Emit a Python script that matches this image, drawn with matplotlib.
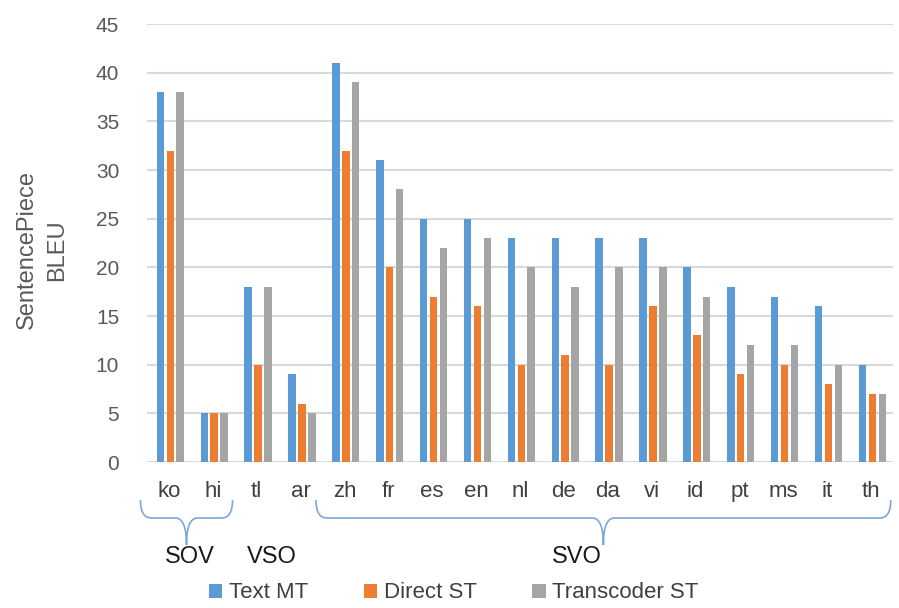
import numpy as np
import matplotlib
matplotlib.use('Agg')
import matplotlib.pyplot as plt
from matplotlib.path import Path
from matplotlib.patches import PathPatch
import matplotlib.transforms as mtransforms

plt.rcParams['font.family'] = ['Liberation Sans', 'DejaVu Sans']

# data
langs = ['ko', 'hi', 'tl', 'ar', 'zh', 'fr', 'es', 'en', 'nl', 'de', 'da', 'vi', 'id', 'pt', 'ms', 'it', 'th']
text_mt = [38, 5, 18, 9, 41, 31, 25, 25, 23, 23, 23, 23, 20, 18, 17, 16, 10]
direct_st = [32, 5, 10, 6, 32, 20, 17, 16, 10, 11, 10, 16, 13, 9, 10, 8, 7]
transcoder_st = [38, 5, 18, 5, 39, 28, 22, 23, 20, 18, 20, 20, 17, 12, 12, 10, 7]
series_names = ['Text MT', 'Direct ST', 'Transcoder ST']
colors = ['#5B9BD5', '#ED7D31', '#A5A5A5']

# word order groups: (first idx, last idx) for the braces, labels placed separately
groups = [(0, 1), (4, 16)]
order_labels = ['SOV', 'VSO', 'SVO']
order_label_x = [190, 272, 577]  # px

W, H = 899, 608
fig = plt.figure(figsize=(W / 100, H / 100), dpi=100)
ax = fig.add_axes([147 / W, 146 / H, 746 / W, 438 / H])

x = np.arange(len(langs))
bw = 0.17
step = 0.225
for k, (vals, c) in enumerate(zip([text_mt, direct_st, transcoder_st], colors)):
    ax.bar(x + (k - 1) * step + 0.03, vals, width=bw, color=c, label=series_names[k], zorder=3)

ax.set_xlim(-0.5, len(langs) - 0.5)
ax.set_ylim(0, 45)
ax.set_yticks(np.arange(0, 46, 5))
ax.set_xticks(x)
ax.set_xticklabels(langs, fontsize=16, color='#404040')
ax.tick_params(axis='y', labelsize=15, labelcolor='#595959', length=0, pad=20)
ax.tick_params(axis='x', length=0, pad=14)
ax.grid(axis='y', color='#D9D9D9', linewidth=1.5, zorder=0)
for s in ax.spines.values():
    s.set_visible(False)

fig.text(42 / W, 1 - 250 / H, 'SentencePiece\nBLEU', rotation=90, ha='center', va='center',
         fontsize=17, color='#595959', linespacing=1.5)

# curly braces under the category axis
tr = mtransforms.blended_transform_factory(ax.transData, fig.transFigure)
ytop = 1 - 500 / H
ymid = 1 - 518 / H
ytip = 1 - 545 / H
r = 0.25
for i0, i1 in groups:
    x0 = i0 - 0.65
    x1 = i1 + 0.45
    xm = (x0 + x1) / 2
    verts = [(x0, ytop), (x0, ymid), (x0 + r, ymid),
             (xm - r, ymid), (xm, ymid), (xm, ytip),
             (xm, ymid), (xm + r, ymid),
             (x1 - r, ymid), (x1, ymid), (x1, ytop)]
    codes = [Path.MOVETO, Path.CURVE3, Path.CURVE3,
             Path.LINETO, Path.CURVE3, Path.CURVE3,
             Path.CURVE3, Path.CURVE3,
             Path.LINETO, Path.CURVE3, Path.CURVE3]
    ax.add_patch(PathPatch(Path(verts, codes), transform=tr, fill=False,
                           edgecolor='#7EA6D6', linewidth=1.2, clip_on=False))

ylab = 1 - 557 / H
for lx, lab in zip(order_label_x, order_labels):
    fig.text(lx / W, ylab, lab, ha='center', va='center', fontsize=17, color='#1a1a1a')

handles, labels = ax.get_legend_handles_labels()
fig.legend(handles, labels, loc='center', bbox_to_anchor=(0.505, 1 - 593 / H), ncol=3,
           frameon=False, fontsize=16, labelcolor='#404040', handlelength=0.6,
           handleheight=0.6, handletextpad=0.3, columnspacing=2.5)

fig.savefig('out.png', dpi=100)
